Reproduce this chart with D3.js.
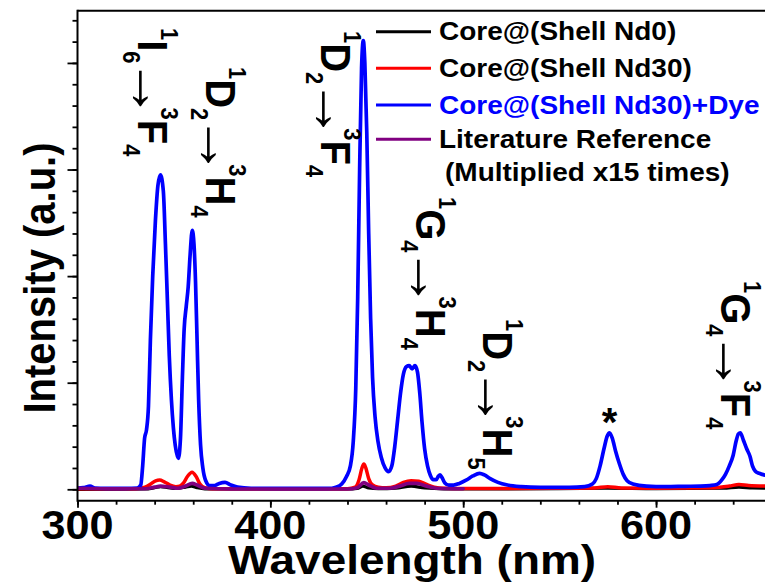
<!DOCTYPE html>
<html>
<head>
<meta charset="utf-8">
<script src="https://cdn.jsdelivr.net/npm/d3@7"></script>
<style>
  html, body { margin: 0; padding: 0; background: #fff; }
  svg { display: block; }
  text { font-family: "Liberation Sans", Arial, sans-serif; font-weight: bold; }
</style>
</head>
<body>
<svg id="chart" width="765" height="582"></svg>
<script>
// ---- data: emission spectra (wavelength in nm, intensity in arbitrary units) ----
const seriesNames = [
  "Core@(Shell Nd0)",
  "Core@(Shell Nd30)",
  "Core@(Shell Nd30)+Dye",
  "Literature Reference"
];
const legendNote = "(Multiplied x15 times)";
const seriesColors = ["#000000", "#ff0000", "#0000ff", "#800080"];

const nd0Spectrum = [
  [300, 0.0], [335, 0.003], [340, 0.015], [343, 0.025], [347, 0.015], [351, 0.008],
  [356, 0.02], [359, 0.03], [362, 0.015], [366, 0.004], [440, 0.003], [445, 0.008],
  [448, 0.03], [451, 0.012], [456, 0.005], [465, 0.01], [473, 0.03], [480, 0.012],
  [490, 0.004], [520, 0.003], [575, 0.01], [600, 0.005], [635, 0.01], [643, 0.02],
  [650, 0.012], [657, 0.01]
];

const nd30Spectrum = [
  [300, 0.005], [330, 0.005], [335, 0.02], [338, 0.05], [340.5, 0.08], [342.6, 0.087],
  [345, 0.07], [348, 0.04], [351, 0.025], [353, 0.03], [355, 0.06], [357, 0.12],
  [359.4, 0.16], [361.5, 0.12], [363.5, 0.05], [366, 0.015], [370, 0.005], [440, 0.005],
  [444, 0.02], [446, 0.09], [447.5, 0.2], [448.5, 0.237], [449.5, 0.2], [451, 0.1],
  [453, 0.04], [456, 0.02], [460, 0.015], [465, 0.03], [469, 0.065], [473, 0.08],
  [477, 0.075], [481, 0.045], [485, 0.02], [490, 0.01], [500, 0.008], [520, 0.008],
  [550, 0.01], [568, 0.012], [575, 0.025], [582, 0.012], [600, 0.01], [630, 0.015],
  [638, 0.03], [643, 0.045], [648, 0.035], [657, 0.03]
];

const dyeSpectrum = [
  [300, 0.012], [303, 0.015], [306.5, 0.03], [309, 0.012], [315, 0.008], [325, 0.008],
  [331, 0.012], [332.8, 0.04], [333.8, 0.22], [334.8, 0.48], [335.8, 0.56], [336.8, 0.78],
  [337.8, 1.4], [339, 2.0], [340.4, 2.52], [341.7, 2.85], [343, 2.95], [344.5, 2.8],
  [345.6, 2.3], [346.6, 1.78], [347.6, 1.25], [348.7, 0.84], [349.7, 0.58], [350.7, 0.41],
  [352.3, 0.29], [353.4, 0.48], [354.4, 1.05], [355.3, 1.5], [356.4, 1.72], [357.4, 1.9],
  [358.4, 2.2], [359.5, 2.43], [360.4, 2.3], [361.2, 1.95], [362, 1.4], [362.8, 0.85],
  [363.8, 0.42], [365, 0.2], [366.5, 0.08], [368.5, 0.035], [371, 0.035], [373.5, 0.055],
  [376.5, 0.065], [379.5, 0.04], [383, 0.02], [390, 0.01], [410, 0.008], [430, 0.008],
  [434, 0.02], [437, 0.05], [439.5, 0.12], [441.5, 0.22], [443, 0.45], [444.3, 0.95],
  [445.3, 1.8], [446.3, 3.0], [447.3, 3.95], [448.2, 4.21], [449, 4.0], [450, 3.35],
  [451, 2.4], [452, 1.6], [453, 1.05], [454.3, 0.68], [455.8, 0.45], [457.5, 0.3],
  [459.5, 0.2], [461.3, 0.165], [463, 0.22], [464.5, 0.4], [466, 0.65], [467.5, 0.9],
  [469, 1.08], [470.5, 1.15], [472, 1.16], [473.5, 1.13], [475, 1.16], [476.3, 1.1],
  [477.5, 0.9], [478.7, 0.62], [480, 0.38], [481.5, 0.22], [483, 0.13], [484.5, 0.09],
  [486, 0.09], [487.2, 0.125], [488, 0.135], [489, 0.11], [490.5, 0.06], [492.5, 0.04],
  [495, 0.04], [498, 0.055], [501.5, 0.085], [505, 0.125], [508.5, 0.15], [511, 0.135],
  [514, 0.1], [518, 0.065], [523, 0.04], [530, 0.025], [540, 0.018], [555, 0.018],
  [563, 0.025], [567, 0.05], [569, 0.1], [571, 0.22], [573, 0.38], [574.7, 0.5],
  [575.9, 0.53], [577.3, 0.48], [579, 0.36], [581, 0.24], [583, 0.14], [585, 0.08],
  [588, 0.05], [595, 0.03], [605, 0.025], [615, 0.028], [623, 0.03], [628, 0.035],
  [631.5, 0.045], [634.2, 0.09], [636, 0.14], [638, 0.22], [640, 0.32], [641.5, 0.45],
  [642.7, 0.52], [643.7, 0.53], [645.3, 0.46], [647, 0.38], [648.7, 0.31], [650, 0.22],
  [651.5, 0.17], [653.5, 0.15], [655, 0.14], [657, 0.13]
];

const literatureSpectrum = [
  [300, 0.01], [320, 0.005], [335, 0.005], [340, 0.02], [343, 0.03], [348, 0.02],
  [352, 0.01], [356, 0.03], [359.5, 0.056], [362, 0.04], [366, 0.01], [380, 0.003],
  [440, 0.003], [445, 0.015], [448.5, 0.062], [451, 0.04], [455, 0.01], [462, 0.01],
  [467, 0.03], [472, 0.055], [476, 0.055], [481, 0.03], [486, 0.01], [500, 0.005]
];

const xTickLabels = [300, 400, 500, 600];
const yMajorTicks = [0, 1, 2, 3, 4];
const peakMarkNm = 575.9;   // emission marked with an asterisk

// ---- layout ----
const plot = { left: 77.5, right: 765, top: 10.7, bottom: 500.7 };
const TX = 1.12;   // horizontal stretch applied to the bold lettering

const svg = d3.select("#chart");
const x = d3.scaleLinear().domain([300, 656.5]).range([plot.left, plot.right]);
const y = d3.scaleLinear().domain([-0.107, 4.49]).range([plot.bottom, plot.top]);

svg.append("defs").append("clipPath").attr("id", "plotClip")
  .append("rect")
  .attr("x", plot.left).attr("y", plot.top)
  .attr("width", plot.right - plot.left).attr("height", plot.bottom - plot.top);

// ---- spectra ----
const line = d3.line().x(d => x(d[0])).y(d => y(d[1])).curve(d3.curveMonotoneX);
const curves = svg.append("g").attr("clip-path", "url(#plotClip)");
const widths = [3.2, 3.5, 3.7, 3.7];
[nd0Spectrum, nd30Spectrum, dyeSpectrum, literatureSpectrum].forEach((s, i) => {
  curves.append("path")
    .attr("d", line(s))
    .attr("fill", "none")
    .attr("stroke", seriesColors[i])
    .attr("stroke-width", widths[i])
    .attr("stroke-linejoin", "round")
    .attr("stroke-linecap", "round");
});

// ---- axes ----
function styleAxis(g) {
  g.select(".domain").remove();
  g.selectAll(".tick line").attr("stroke", "#000").attr("stroke-width", 1.8);
  g.selectAll(".tick text").remove();
}
svg.append("g").attr("transform", `translate(0,${plot.bottom})`)
  .call(d3.axisBottom(x).tickValues(d3.range(300, 657, 20)).tickSize(4).tickFormat(""))
  .call(styleAxis);
svg.append("g").attr("transform", `translate(0,${plot.bottom})`)
  .call(d3.axisBottom(x).tickValues(xTickLabels).tickSize(7).tickFormat(""))
  .call(styleAxis);
svg.append("g").attr("transform", `translate(${plot.left},0)`)
  .call(d3.axisLeft(y).tickValues(d3.range(0, 4.45, 0.2)).tickSize(5).tickFormat(""))
  .call(styleAxis);
svg.append("g").attr("transform", `translate(${plot.left},0)`)
  .call(d3.axisLeft(y).tickValues(yMajorTicks).tickSize(10).tickFormat(""))
  .call(styleAxis);

// frame lines (left, top, bottom)
const frame = svg.append("g").attr("stroke", "#000").attr("stroke-width", 2);
frame.append("line").attr("x1", plot.left).attr("x2", plot.left).attr("y1", plot.top - 1).attr("y2", plot.bottom + 1);
frame.append("line").attr("x1", plot.left).attr("x2", plot.right).attr("y1", plot.top).attr("y2", plot.top);
frame.append("line").attr("x1", plot.left).attr("x2", plot.right).attr("y1", plot.bottom).attr("y2", plot.bottom);

// helper for stretched bold text
function label(px, py, str, size, opts = {}) {
  const rot = opts.rotate ? ` rotate(${opts.rotate})` : "";
  const sx = opts.sx || TX;
  return svg.append("text")
    .attr("transform", `translate(${px},${py}) scale(${sx},1)${rot}`)
    .attr("font-size", size)
    .attr("text-anchor", opts.anchor || "start")
    .attr("fill", opts.fill || "#000")
    .text(str);
}

// tick labels
xTickLabels.forEach(v => label(x(v), 538.5, v, 40, { anchor: "middle", sx: 1.08 }));

// axis titles
label(412, 574, "Wavelength (nm)", 41, { anchor: "middle" });
label(55, 278, "Intensity (a.u.)", 40, { anchor: "middle", rotate: -90 });

// ---- legend ----
const legendRows = [31.7, 68.3, 105, 139.3];
seriesNames.forEach((name, i) => {
  svg.append("line")
    .attr("x1", 376).attr("x2", 431)
    .attr("y1", legendRows[i]).attr("y2", legendRows[i])
    .attr("stroke", seriesColors[i]).attr("stroke-width", 3);
  label(439, legendRows[i] + 8.5, name, 25, { fill: i === 2 ? "#0000ff" : "#000" });
});
label(445, 181, legendNote, 25);

// ---- transition labels (vertical text, read top to bottom) ----
const transitions = [
  { parts: [["1", "sup"], ["I"], ["6", "sub"], ["→", "arr"], ["3", "sup"], ["F"], ["4", "sub"]], bx: 138, sy: 28 },
  { parts: [["1", "sup"], ["D"], ["2", "sub"], ["→", "arr"], ["3", "sup"], ["H"], ["4", "sub"]], bx: 206, sy: 67 },
  { parts: [["1", "sup"], ["D"], ["2", "sub"], ["→", "arr"], ["3", "sup"], ["F"], ["4", "sub"]], bx: 321, sy: 31 },
  { parts: [["1", "sup"], ["G"], ["4", "sub"], ["→", "arr"], ["3", "sup"], ["H"], ["4", "sub"]], bx: 416, sy: 197 },
  { parts: [["1", "sup"], ["D"], ["2", "sub"], ["→", "arr"], ["3", "sup"], ["H"], ["5", "sub"]], bx: 483, sy: 319 },
  { parts: [["1", "sup"], ["G"], ["4", "sub"], ["→", "arr"], ["3", "sup"], ["F"], ["4", "sub"]], bx: 721, sy: 281 }
];
const SHIFT = { sup: -22, sub: 14, arr: 8 };
transitions.forEach(tr => {
  const t = svg.append("text")
    .attr("transform", `translate(${tr.bx},${tr.sy}) scale(1.05,1) rotate(90)`)
    .attr("fill", "#000");
  let cur = 0, prevArrow = false;
  tr.parts.forEach(([s, kind]) => {
    const shift = SHIFT[kind] || 0;
    const isArrow = kind === "arr";
    const ts = t.append("tspan")
      .attr("dy", shift - cur)
      .attr("font-size", isArrow ? 60 : (kind ? 22 : 40))
      .text(s);
    if (isArrow) {
      ts.attr("font-weight", "normal").attr("dx", -5);
    } else if (prevArrow) {
      ts.attr("dx", -11);
    }
    prevArrow = isArrow;
    cur = shift;
  });
});

// asterisk above the scattered-light peak
svg.append("text")
  .attr("x", x(peakMarkNm)).attr("y", 436)
  .attr("text-anchor", "middle")
  .attr("font-size", 40)
  .text("*");
</script>
</body>
</html>
